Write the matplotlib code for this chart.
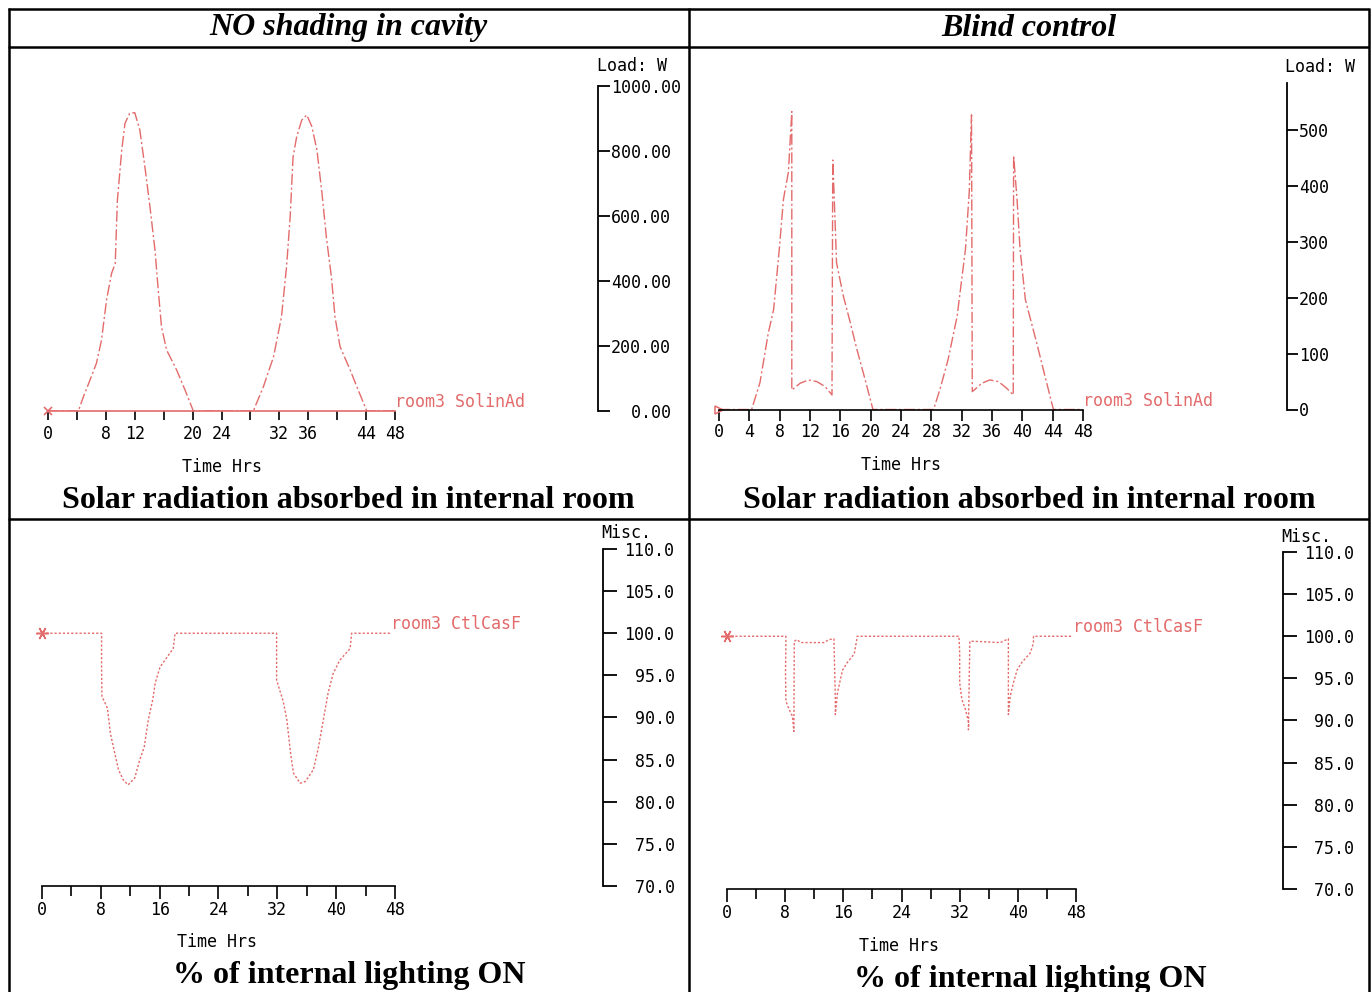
import matplotlib
matplotlib.use("Agg")
import matplotlib.pyplot as plt
from matplotlib.lines import Line2D

# ---------------- data ----------------
hour_ticks = [0, 4, 8, 12, 16, 20, 24, 28, 32, 36, 40, 44, 48]

# Solar radiation absorbed in room, no shading in cavity (W)
solar_open_hours = [0, 4.2, 4.9, 6.0, 6.7, 7.4, 8.1, 8.8, 9.3, 9.6,
                    10.2, 10.65, 11.3, 12.0, 12.7, 13.4, 14.1, 14.8, 15.25, 15.7,
                    16.4, 17.8, 18.95, 20.1,
                    28.4, 29.8, 31.2, 32.3, 33.0, 33.5, 33.9, 34.4, 35.1, 35.8,
                    36.5, 37.2, 37.9, 38.5, 39.2, 39.7, 40.4, 41.8, 42.9, 44.1, 48]
solar_open_load = [0, 0, 44, 106, 147, 218, 342, 424, 454, 649,
                   803, 885, 916, 918, 865, 752, 629, 495, 372, 259,
                   188, 126, 65, 0,
                   0, 75, 167, 290, 444, 598, 782, 844, 895, 911,
                   875, 803, 670, 536, 413, 290, 198, 126, 65, 0, 0]

# Solar radiation absorbed in room, blind control (W)
solar_blind_hours = [0, 4.3, 5.4, 6.5, 7.2, 7.95, 8.5, 9.15, 9.6, 9.6,
                     10.7, 11.8, 12.9, 14.0, 14.9, 15.0, 15.2, 15.5, 16.4, 17.1,
                     18.2, 19.4, 20.3, 28.3, 29.2, 30.2, 31.4, 32.5, 33.0, 33.3,
                     33.4, 34.65, 35.7, 36.85, 37.95, 38.8, 38.85, 39.3, 39.7, 40.4,
                     41.9, 43.0, 44.1, 48]
solar_blind_load = [0, 0, 48, 137, 179, 287, 377, 425, 534, 35,
                    47, 53, 50, 41, 26, 447, 377, 263, 203, 167,
                    107, 47, 0, 0, 39, 89, 167, 287, 390, 528,
                    32, 47, 53, 50, 38, 26, 455, 377, 287, 197,
                    119, 59, 0, 0]

# Percentage of internal lighting ON, no shading in cavity
light_open_hours = [0, 8.1, 8.1, 8.15, 8.9, 9.3, 9.9, 10.4, 11.05, 11.7,
                    12.6, 13.3, 13.9, 14.45, 15.05, 15.4, 16.05, 17.2, 17.85, 18.1,
                    31.9, 31.9, 32.8, 33.3, 33.8, 34.2, 35.1, 35.8, 36.9, 37.6,
                    38.25, 38.9, 39.6, 40.5, 41.9, 42.1, 47.5]
light_open_pct = [100, 100, 96.0, 92.5, 91.1, 88.1, 85.75, 83.8, 82.6, 82.0,
                  82.8, 85.0, 86.5, 89.7, 92.1, 94.1, 96.0, 97.4, 98.2, 100,
                  100, 94.45, 91.9, 89.7, 85.75, 83.4, 82.2, 82.4, 83.8, 86.5,
                  89.7, 92.9, 95.25, 96.8, 98.2, 100, 100]

# Percentage of internal lighting ON, blind control
light_blind_hours = [0, 8.1, 8.1, 8.05, 8.1, 8.55, 9.0, 9.2, 9.25, 9.6,
                     10.15, 13.35, 14.0, 14.7, 14.86, 14.9, 14.9, 15.2, 15.6, 15.9,
                     16.55, 17.5, 17.9, 17.9, 31.9, 32.0, 32.0, 32.3, 32.8, 33.25,
                     33.2, 33.4, 34.0, 37.6, 38.7, 38.7, 38.7, 38.95, 39.4, 39.9,
                     40.55, 41.7, 42.15, 42.15, 47.6]
light_blind_pct = [100, 100, 99.25, 95.7, 92.3, 91.3, 90.5, 88.7, 99.4, 99.6,
                   99.25, 99.25, 99.6, 99.7, 94.1, 92.5, 90.7, 93.3, 94.9, 96.0,
                   96.9, 97.9, 99.85, 100, 100, 98.1, 94.5, 92.5, 91.3, 89.7,
                   88.9, 99.4, 99.4, 99.25, 99.7, 94.9, 90.7, 92.9, 94.5, 96.0,
                   96.9, 98.0, 99.2, 100, 100]

load_ticks_open = [0, 200, 400, 600, 800, 1000]
load_ticks_blind = [0, 100, 200, 300, 400, 500]
misc_ticks = [70, 75, 80, 85, 90, 95, 100, 105, 110]

# ---------------- layout helpers ----------------
W, H = 1371, 992
fig = plt.figure(figsize=(W / 100, H / 100), dpi=100)
fig.patch.set_facecolor("white")

RED = "#e36b6b"
MONO = "DejaVu Sans Mono"
SERIF = "Liberation Serif"
FS = 12
TITLE_FS = 23


def rect(x0, x1, ytop, ybot):
    return [x0 / W, 1 - ybot / H, (x1 - x0) / W, (ybot - ytop) / H]


def ftext(x, y, s, **kw):
    fig.text(x / W, 1 - y / H, s, **kw)


def hline(y, x0, x1, lw=1.8):
    fig.add_artist(Line2D([x0 / W, x1 / W], [1 - y / H, 1 - y / H],
                          color="black", lw=lw, solid_capstyle="butt"))


def vline(x, y0, y1, lw=1.8):
    fig.add_artist(Line2D([x / W, x / W], [1 - y0 / H, 1 - y1 / H],
                          color="black", lw=lw, solid_capstyle="butt"))


def data_axes(x0, x1, ytop, ybot, ylim):
    ax = fig.add_axes(rect(x0, x1, ytop, ybot))
    ax.set_xlim(0, 48)
    ax.set_ylim(*ylim)
    ax.patch.set_visible(False)
    for s in ("top", "left", "right"):
        ax.spines[s].set_visible(False)
    ax.spines["bottom"].set_linewidth(1.2)
    ax.tick_params(axis="y", left=False, labelleft=False)
    ax.tick_params(axis="x", colors="black", labelsize=FS)
    return ax


def scale_axes(xspine, ytop, ybot, ylim, ticks, fmt, length, pad):
    ax = fig.add_axes(rect(xspine - 30, xspine, ytop, ybot))
    ax.set_ylim(*ylim)
    ax.patch.set_visible(False)
    for s in ("top", "left", "bottom"):
        ax.spines[s].set_visible(False)
    ax.spines["right"].set_linewidth(1.3)
    ax.set_xticks([])
    ax.yaxis.set_ticks_position("right")
    ax.set_yticks(ticks)
    ax.set_yticklabels([fmt(t) for t in ticks], fontfamily=MONO, fontsize=FS)
    ax.tick_params(axis="y", direction="out", length=length, width=1.3, pad=pad)
    return ax


def title(x, y, s):
    ftext(x, y, s, ha="center", va="center", fontfamily=SERIF,
          fontweight="bold", fontsize=TITLE_FS)


# ---------------- table frame ----------------
hline(9, 7.6, 1369.4)
hline(47.3, 7.6, 1369.4)
hline(519.3, 7.6, 1369.4)
vline(8.5, 8.1, 992)
vline(689, 8.1, 992)
vline(1368.5, 8.1, 992)

ftext(348, 28, "NO shading in cavity", ha="center", va="center",
      fontfamily=SERIF, fontweight="bold", fontstyle="italic", fontsize=TITLE_FS)
ftext(1029, 28, "Blind control", ha="center", va="center",
      fontfamily=SERIF, fontweight="bold", fontstyle="italic", fontsize=TITLE_FS)

# ---------------- top left: solar, no shading ----------------
ax1 = data_axes(48, 395, 86, 411, (0, 1000))
ax1.spines["bottom"].set_color(RED)
ax1.set_xticks(hour_ticks)
ax1.set_xticklabels(["" if h in (4, 16, 28, 40) else str(h) for h in hour_ticks],
                    fontfamily=MONO, fontsize=FS)
ax1.tick_params(axis="x", direction="out", length=6.5, width=1.2, pad=3.5)
ax1.plot(solar_open_hours, solar_open_load, color=RED, lw=1.0,
         linestyle=(0, (8, 2, 1.5, 2)))
ax1.plot([solar_open_hours[0]], [solar_open_load[0]], marker="x", ms=6,
         mew=1.2, color=RED, clip_on=False)
ax1.text(48, 0, "room3 SolinAd", color=RED, fontfamily=MONO, fontsize=FS,
         ha="left", va="bottom")
scale_axes(598, 86, 411, (0, 1000), load_ticks_open,
           lambda v: f"{v:6.2f}", 8.6, 0.5)
ftext(597, 66, "Load: W", ha="left", va="center", fontfamily=MONO, fontsize=FS)
ftext(222, 467, "Time Hrs", ha="center", va="center", fontfamily=MONO, fontsize=FS)
title(348, 500, "Solar radiation absorbed in internal room")

# ---------------- top right: solar, blind control ----------------
ax2 = data_axes(719, 1083, 82.5, 409.5, (0, 586))
ax2.set_xticks(hour_ticks)
ax2.set_xticklabels([str(h) for h in hour_ticks], fontfamily=MONO, fontsize=FS)
ax2.tick_params(axis="x", direction="out", length=8, width=1.2, pad=2)
ax2.plot(solar_blind_hours, solar_blind_load, color=RED, lw=1.0,
         linestyle=(0, (8, 2, 1.5, 2)))
ax2.plot([solar_blind_hours[0]], [solar_blind_load[0]], marker=">", ms=6,
         mfc="none", mew=1.1, color=RED, clip_on=False)
ax2.text(48, 0, "room3 SolinAd", color=RED, fontfamily=MONO, fontsize=FS,
         ha="left", va="bottom")
scale_axes(1287, 82.5, 409.5, (0, 586), load_ticks_blind,
           lambda v: f"{v:d}", 8, 0.5)
ftext(1285, 67, "Load: W", ha="left", va="center", fontfamily=MONO, fontsize=FS)
ftext(901, 465, "Time Hrs", ha="center", va="center", fontfamily=MONO, fontsize=FS)
title(1029, 501, "Solar radiation absorbed in internal room")

# ---------------- bottom left: lighting, no shading ----------------
ax3 = data_axes(42, 395, 549, 886, (70, 110))
ax3.set_xticks([0, 8, 16, 24, 32, 40, 48])
ax3.set_xticks([4, 12, 20, 28, 36, 44], minor=True)
ax3.set_xticklabels(["0", "8", "16", "24", "32", "40", "48"],
                    fontfamily=MONO, fontsize=FS)
ax3.tick_params(axis="x", which="major", direction="out", length=9, width=1.2, pad=2)
ax3.tick_params(axis="x", which="minor", direction="out", length=7, width=1.2)
ax3.plot(light_open_hours, light_open_pct, color=RED, lw=1.0,
         linestyle=(0, (1.6, 1.4)))
ax3.plot([light_open_hours[0]], [light_open_pct[0]], marker=(6, 2, 90), ms=9,
         mew=1.1, color=RED, clip_on=False)
ax3.text(light_open_hours[-1], light_open_pct[-1], "room3 CtlCasF", color=RED,
         fontfamily=MONO, fontsize=FS, ha="left", va="bottom")
scale_axes(603, 549, 886, (70, 110), misc_ticks,
           lambda v: f"{v:5.1f}", 10, 5.5)
ftext(601, 533, "Misc.", ha="left", va="center", fontfamily=MONO, fontsize=FS)
ftext(217, 942, "Time Hrs", ha="center", va="center", fontfamily=MONO, fontsize=FS)
title(349, 976, "% of internal lighting ON")

# ---------------- bottom right: lighting, blind control ----------------
ax4 = data_axes(727, 1076, 552, 889, (70, 110))
ax4.set_xticks([0, 8, 16, 24, 32, 40, 48])
ax4.set_xticks([4, 12, 20, 28, 36, 44], minor=True)
ax4.set_xticklabels(["0", "8", "16", "24", "32", "40", "48"],
                    fontfamily=MONO, fontsize=FS)
ax4.tick_params(axis="x", which="major", direction="out", length=9, width=1.2, pad=2)
ax4.tick_params(axis="x", which="minor", direction="out", length=7, width=1.2)
ax4.plot(light_blind_hours, light_blind_pct, color=RED, lw=1.0,
         linestyle=(0, (1.6, 1.4)))
ax4.plot([light_blind_hours[0]], [light_blind_pct[0]], marker=(6, 2, 90), ms=9,
         mew=1.1, color=RED, clip_on=False)
ax4.text(light_blind_hours[-1], light_blind_pct[-1], "room3 CtlCasF", color=RED,
         fontfamily=MONO, fontsize=FS, ha="left", va="bottom")
scale_axes(1283, 552, 889, (70, 110), misc_ticks,
           lambda v: f"{v:5.1f}", 10, 5)
ftext(1281, 537, "Misc.", ha="left", va="center", fontfamily=MONO, fontsize=FS)
ftext(899, 946, "Time Hrs", ha="center", va="center", fontfamily=MONO, fontsize=FS)
title(1030, 980, "% of internal lighting ON")

fig.savefig("out.png", dpi=100, facecolor="white")
